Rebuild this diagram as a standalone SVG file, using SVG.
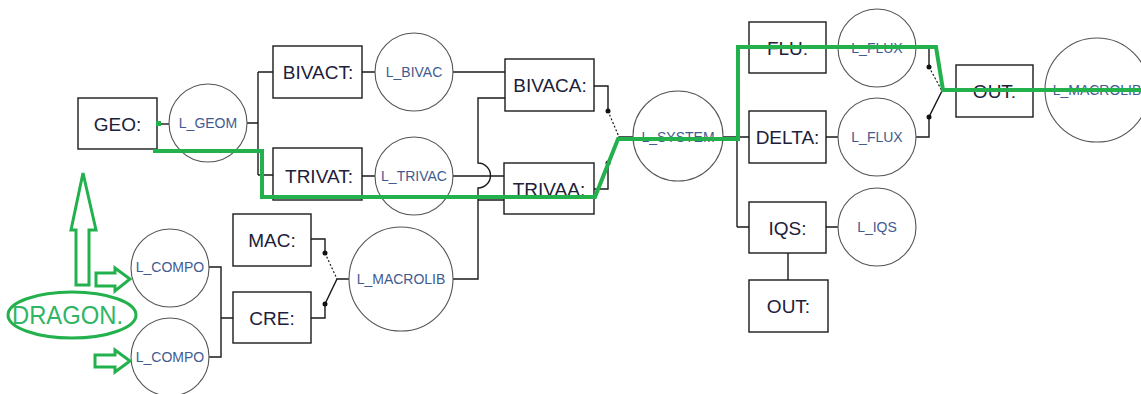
<svg xmlns="http://www.w3.org/2000/svg" width="1141" height="394" viewBox="0 0 1141 394">
<style>
.box{fill:#fff;stroke:#1a1a1a;stroke-width:1.4}
.cir{fill:#fff;stroke:#555;stroke-width:1.1}
.bt{font-family:"Liberation Sans",Arial,Helvetica,sans-serif;font-size:19px;fill:#20203a;text-anchor:middle}
.ct{font-family:"Liberation Sans",Arial,Helvetica,sans-serif;font-size:14px;fill:#3f5b90;text-anchor:middle}
.ln{fill:none;stroke:#1a1a1a;stroke-width:1.4}
.dash{fill:none;stroke:#1a1a1a;stroke-width:1.2;stroke-dasharray:2 2}
.dot{fill:#111}
.g{fill:none;stroke:#22b14c;stroke-width:4;stroke-linejoin:miter}
.ga{fill:none;stroke:#22b14c;stroke-width:3}
</style>
<rect width="1141" height="394" fill="#fff"/>
<g id="connectors">
<path class="ln" d="M157,124 H169"/>
<path class="ln" d="M247,123 H258 M258,72 V175 M258,72 H273 M258,175 H273"/>
<path class="ln" d="M362,72 H375 M362,176 H375"/>
<path class="ln" d="M453,72 H505"/>
<path class="ln" d="M453,176 H504"/>
<path class="ln" d="M505,98 H478 V163 A12.5,12.5 0 0 1 478,188 V279 H453 M478,200 H504"/>
<path class="ln" d="M594,86 H608 V111 M594,189 H608 V163 L619,137 H633"/>
<path class="dash" d="M608,111 L619,137"/>
<path class="ln" d="M723,137 H737 M737,47 V227 M737,47 H749 M737,137 H749 M737,227 H749"/>
<path class="ln" d="M826,48 H838 M826,137 H838 M826,227 H838 M788,253 V280"/>
<path class="ln" d="M915,48 H929 V67 M915,137 H929 V117 L942,91 H956"/>
<path class="dash" d="M929,67 L942,91"/>
<path class="ln" d="M1033,91 H1045"/>
<path class="ln" d="M311,239 H325 V253 M311,318 H325 V304 L337,279 H349"/>
<path class="dash" d="M325,253 L337,279"/>
<path class="ln" d="M208,267 H221 V357 H208 M221,318 H233"/>
<circle class="dot" cx="608" cy="111" r="2.5"/>
<circle class="dot" cx="608" cy="163" r="2.5"/>
<circle class="dot" cx="929" cy="67" r="2.5"/>
<circle class="dot" cx="929" cy="117" r="2.5"/>
<circle class="dot" cx="325" cy="253" r="2.5"/>
<circle class="dot" cx="325" cy="304" r="2.5"/>
</g>
<g id="geo"><rect class="box" x="78" y="98" width="79" height="51"/><text class="bt" x="117.5" y="131">GEO:</text></g>
<g id="l_geom"><circle class="cir" cx="208" cy="123" r="39"/><text class="ct" x="208" y="128">L_GEOM</text></g>
<g id="bivact"><rect class="box" x="273" y="46" width="89" height="52"/><text class="bt" x="318" y="79">BIVACT:</text></g>
<g id="l_bivac"><circle class="cir" cx="414" cy="72" r="39"/><text class="ct" x="414" y="77">L_BIVAC</text></g>
<g id="trivat"><rect class="box" x="273" y="148" width="89" height="52"/><text class="bt" x="319" y="183">TRIVAT:</text></g>
<g id="l_trivac"><circle class="cir" cx="414" cy="176" r="39"/><text class="ct" x="414" y="181">L_TRIVAC</text></g>
<g id="bivaca"><rect class="box" x="505" y="59" width="89" height="52"/><text class="bt" x="550" y="92">BIVACA:</text></g>
<g id="trivaa"><rect class="box" x="504" y="163" width="90" height="51"/><text class="bt" x="549" y="196">TRIVAA:</text></g>
<g id="mac"><rect class="box" x="233" y="214" width="78" height="52"/><text class="bt" x="272" y="247">MAC:</text></g>
<g id="cre"><rect class="box" x="233" y="292" width="78" height="51"/><text class="bt" x="272" y="325">CRE:</text></g>
<g id="l_macrolib"><circle class="cir" cx="401" cy="279" r="52"/><text class="ct" x="401" y="284">L_MACROLIB</text></g>
<g id="l_compo1"><circle class="cir" cx="170" cy="268" r="39"/><text class="ct" x="170" y="272">L_COMPO</text></g>
<g id="l_compo2"><circle class="cir" cx="170" cy="357" r="39"/><text class="ct" x="170" y="362">L_COMPO</text></g>
<g id="l_system"><circle class="cir" cx="678" cy="136" r="45"/><text class="ct" x="678" y="142">L_SYSTEM</text></g>
<g id="flu"><rect class="box" x="749" y="22" width="77" height="51"/><text class="bt" x="787.5" y="55">FLU:</text></g>
<g id="l_flux1"><circle class="cir" cx="877" cy="48" r="39"/><text class="ct" x="877" y="53">L_FLUX</text></g>
<g id="delta"><rect class="box" x="749" y="111" width="77" height="52"/><text class="bt" x="787.5" y="144">DELTA:</text></g>
<g id="l_flux2"><circle class="cir" cx="877" cy="137" r="39"/><text class="ct" x="877" y="142">L_FLUX</text></g>
<g id="iqs"><rect class="box" x="749" y="202" width="77" height="51"/><text class="bt" x="787.5" y="235">IQS:</text></g>
<g id="l_iqs"><circle class="cir" cx="877" cy="227" r="39"/><text class="ct" x="877" y="232">L_IQS</text></g>
<g id="out2"><rect class="box" x="749" y="280" width="79" height="52"/><text class="bt" x="788.5" y="313">OUT:</text></g>
<g id="out1"><rect class="box" x="956" y="65" width="77" height="52"/><text class="bt" x="994.5" y="98">OUT:</text></g>
<g id="l_macrolib2"><circle class="cir" cx="1097" cy="90" r="52"/><text class="ct" x="1097" y="95">L_MACROLIB</text></g>
<g id="annotation">
<path class="g" d="M153,151 H262 V197 H595 L618,139 H738 V47 H936 L943,90 H1141"/>
<rect x="156" y="121" width="5" height="5" fill="#22b14c"/>
<polygon class="ga" points="76,285 76,230 71,230 83,173 96,230 89,230 89,285"/>
<polygon class="ga" points="96,273 115,273 115,268 130,279 115,291 115,286 96,286"/>
<polygon class="ga" points="95,355 115,355 115,350 130,361 115,372 115,367 95,367"/>
<ellipse class="ga" cx="72" cy="315" rx="64" ry="23"/>
<text x="12" y="324" font-family="Liberation Sans,Arial,sans-serif" font-size="26" fill="#2fb565" textLength="111" lengthAdjust="spacingAndGlyphs">DRAGON.</text>
</g>
</svg>
